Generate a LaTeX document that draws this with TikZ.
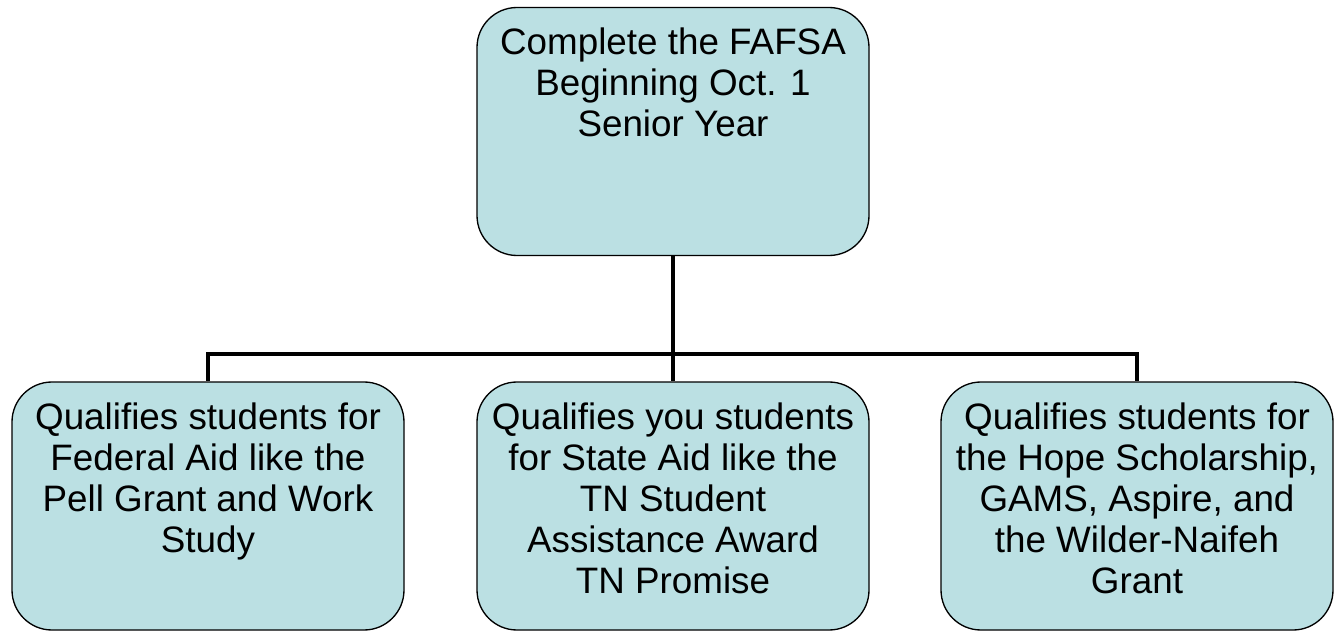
\documentclass[tikz,border=0pt]{standalone}
\usepackage{fontspec}
\setmainfont{Liberation Sans}
\usepackage{tikz}

\definecolor{boxfill}{RGB}{187,224,227}

\tikzset{
  aidbox/.style={draw=black, line width=1pt, fill=boxfill, rounded corners=30pt, inner sep=0pt},
  branch/.style={draw=black, line width=3pt}
}

% fixed size text block, lines start at the top
\newcommand{\boxtext}[1]{\parbox[c][186pt][t]{294pt}{\centering\fontsize{27.6}{30.9}\selectfont\rule{0pt}{35.25pt}#1}}

\begin{document}
\begin{tikzpicture}[x=0.75pt,y=0.75pt,yscale=-1,xscale=1]
\useasboundingbox (0,0) rectangle (1342,631);

%Rounded Rect [id:fafsa]
\node[aidbox] (fafsa) at (673,131.5) {\boxtext{Complete the FAFSA\\Beginning Oct. 1\\Senior Year}};
%Rounded Rect [id:federal]
\node[aidbox] (federal) at (208,506) {\boxtext{Qualifies students for\\Federal Aid like the\\Pell Grant and Work\\Study}};
%Rounded Rect [id:state]
\node[aidbox] (state) at (673,506) {\boxtext{Qualifies you students\\for State Aid like the\\TN Student\\Assistance Award\\TN Promise}};
%Rounded Rect [id:hope]
\node[aidbox] (hope) at (1137,506) {\boxtext{Qualifies students for\\the Hope Scholarship,\\GAMS, Aspire, and\\the Wilder-Naifeh\\Grant}};

%Straight Lines [id:split]
\draw[branch] (fafsa.south) -- ++(0,98) -| (federal.north);
%Straight Lines
\draw[branch] (fafsa.south) -- ++(0,98) -| (hope.north);
%Straight Lines
\draw[branch] (fafsa.south) -- (state.north);

\end{tikzpicture}
\end{document}
